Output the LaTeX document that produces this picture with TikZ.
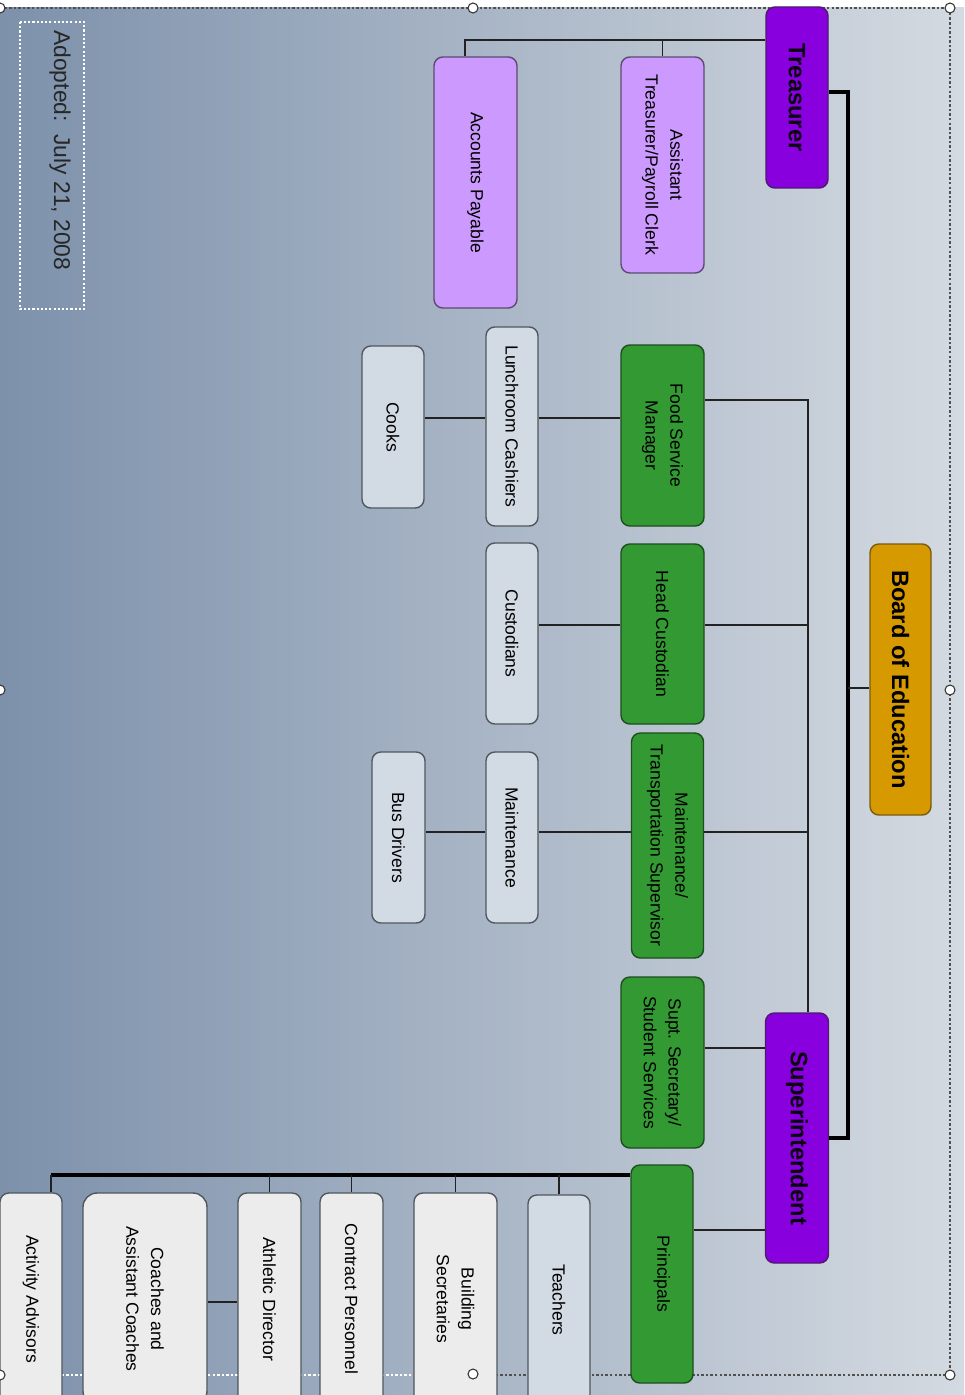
\documentclass[tikz,border=0pt]{standalone}
\usepackage{fontspec}
\setmainfont{Liberation Sans}
\usepackage{xcolor}
\usepackage{tikz}

\definecolor{bgLeft}{RGB}{125,145,171}
\definecolor{bgMid}{RGB}{172,185,200}
\definecolor{bgRight}{RGB}{212,218,225}
\definecolor{purpleFill}{RGB}{136,0,222}
\definecolor{purpleEdge}{RGB}{75,27,110}
\definecolor{lilacFill}{RGB}{204,153,255}
\definecolor{lilacEdge}{RGB}{92,74,114}
\definecolor{greenFill}{RGB}{51,153,51}
\definecolor{greenEdge}{RGB}{30,77,30}
\definecolor{goldFill}{RGB}{214,154,0}
\definecolor{goldEdge}{RGB}{122,90,16}
\definecolor{greyFill}{RGB}{210,218,227}
\definecolor{paleFill}{RGB}{236,236,236}
\definecolor{greyEdge}{RGB}{79,86,94}
\definecolor{lineC}{RGB}{34,34,34}
\definecolor{frameC}{RGB}{80,80,80}

\begin{document}
\begin{tikzpicture}[
    x=0.2mm, y=-0.2mm,
    box_style/.style={draw, rotate=-90, rounded corners=5pt, line width=0.8pt,
        inner sep=2pt, align=center, text=black,
        font=\fontsize{10}{14}\selectfont},
    head_style/.style={box_style, font=\bfseries\fontsize{13.5}{16}\selectfont},
    box_size/.style 2 args={minimum width=#1*0.2mm, minimum height=#2*0.2mm},
    purple_box/.style={head_style, fill=purpleFill, draw=purpleEdge, text=black!85!purpleEdge},
    gold_box/.style={head_style, fill=goldFill, draw=goldEdge},
    lilac_box/.style={box_style, fill=lilacFill, draw=lilacEdge},
    green_box/.style={box_style, fill=greenFill, draw=greenEdge},
    grey_box/.style={box_style, fill=greyFill, draw=greyEdge},
    pale_box/.style={box_style, fill=paleFill, draw=greyEdge},
    line_style/.style={draw=lineC, line width=0.8pt},
    thick_style/.style={draw=black, line width=2pt},
    frame_style/.style={frameC, line width=0.6pt, dash pattern=on 1.4pt off 1.2pt},
    handle_style/.style={fill=white, draw=black!80, line width=0.6pt}
]
    \clip (0,0) rectangle (964,1395);
    \useasboundingbox (0,0) rectangle (964,1395);

    % Background
    \fill[white] (0,0) rectangle (964,1395);
    \shade[left color=bgLeft, middle color=bgMid, right color=bgRight] (0,8) rectangle (964,1395);

    % Selection frame
    \draw[frame_style] (0,8) -- (950,8) -- (950,1375) -- (480,1375);
    \draw[frame_style, white] (480,1375) -- (0,1375);

    % Date
    \draw[white, line width=0.6pt, dash pattern=on 1.2pt off 1.2pt] (20,22) rectangle (84,309);
    \node[rotate=-90, anchor=base west, inner sep=0pt, font=\fontsize{13}{15}\selectfont, text=black!85]
        (adopted) at (54,30) {Adopted:\ \ July 21, 2008};

    % Junction coordinates
    \coordinate (spine) at (848,0);
    \coordinate (ops_bus) at (808,400);
    \coordinate (ap_drop) at (465,0);
    \coordinate (aa_drop) at (51,0);
    \coordinate (row_treas) at (0,40);
    \coordinate (row_top) at (0,92);
    \coordinate (row_lunch) at (0,418);
    \coordinate (row_cust) at (0,625);
    \coordinate (row_board) at (0,688);
    \coordinate (row_maint) at (0,832);
    \coordinate (row_secy) at (0,1048);
    \coordinate (row_bottom) at (0,1138);
    \coordinate (row_staff) at (0,1175);
    \coordinate (row_prin) at (0,1230);
    \coordinate (row_coach) at (0,1302);

    % Nodes
    \node[purple_box, box_size={181}{62}] (treas) at (797,97.5) {Treasurer};
    \node[gold_box, box_size={271}{61}] (board) at (900.5,679.5) {Board of Education};
    \node[purple_box, box_size={250}{63}] (supt) at (797,1138) {Superintendent};

    \node[lilac_box, box_size={216}{83}] (asst) at (662.5,165) {Assistant\\Treasurer/Payroll Clerk};
    \node[lilac_box, box_size={251}{83}] (acct) at (475.5,182.5) {Accounts Payable};

    \node[green_box, box_size={181}{83}] (food) at (662.5,435.5) {Food Service\\Manager};
    \node[grey_box, box_size={199}{52}] (lunch) at (512,426.5) {Lunchroom Cashiers};
    \node[grey_box, box_size={162}{62}] (cooks) at (393,427) {Cooks};

    \node[green_box, box_size={180}{83}] (headc) at (662.5,634) {Head Custodian};
    \node[grey_box, box_size={181}{52}] (cust) at (512,633.5) {Custodians};

    \node[green_box, box_size={225}{72}] (mts) at (667.5,845.5) {Maintenance/\\Transportation Supervisor};
    \node[grey_box, box_size={171}{52}] (maint) at (512,837.5) {Maintenance};
    \node[grey_box, box_size={171}{53}] (drivers) at (398.5,837.5) {Bus Drivers};

    \node[green_box, box_size={171}{83}] (secy) at (662.5,1062.5) {Supt. Secretary/\\Student Services};
    \node[green_box, box_size={218}{62}] (princ) at (662,1274) {Principals};

    \node[grey_box, box_size={210}{62}] (teach) at (559,1300) {Teachers};
    \node[pale_box, box_size={212}{83}] (bldg) at (455.5,1299) {Building\\Secretaries};
    \node[pale_box, box_size={212}{63}] (contr) at (351.5,1299) {Contract Personnel};
    \node[pale_box, box_size={212}{63}] (athl) at (269.5,1299) {Athletic Director};
    \node[pale_box, box_size={212}{124}, rounded corners=8pt] (coach) at (145,1299) {Coaches and\\Assistant Coaches};
    \node[pale_box, box_size={212}{62}] (activ) at (31,1299) {Activity Advisors};

    % Board, Treasurer and Superintendent
    \draw[thick_style] (treas.north |- row_top) -| (spine |- row_bottom) -- (supt.north |- row_bottom);
    \draw[line_style] (board.south |- row_board) -- (spine |- row_board);

    % Treasurer staff
    \draw[line_style] (treas.south |- row_treas) -| (ap_drop |- acct.west);
    \draw[line_style] (asst.west |- row_treas) -- (asst.west);

    % Superintendent staff
    \draw[line_style] (supt.west -| ops_bus) -- (ops_bus) -- (food.north |- ops_bus);
    \draw[line_style] (headc.north |- row_cust) -- (ops_bus |- row_cust);
    \draw[line_style] (mts.north |- row_maint) -- (ops_bus |- row_maint);
    \draw[line_style] (secy.north |- row_secy) -- (supt.south |- row_secy);
    \draw[line_style] (princ.north |- row_prin) -- (supt.south |- row_prin);

    % Department staff
    \draw[line_style] (food.south |- row_lunch) -- (lunch.north |- row_lunch);
    \draw[line_style] (lunch.south |- row_lunch) -- (cooks.north |- row_lunch);
    \draw[line_style] (headc.south |- row_cust) -- (cust.north |- row_cust);
    \draw[line_style] (mts.south |- row_maint) -- (maint.north |- row_maint);
    \draw[line_style] (maint.south |- row_maint) -- (drivers.north |- row_maint);

    % Principals staff
    \draw[thick_style] (princ.south |- row_staff) -- (aa_drop |- row_staff);
    \foreach \n in {teach, bldg, contr, athl}
        \draw[line_style] (\n.west |- row_staff) -- (\n.west);
    \draw[line_style] (aa_drop |- row_staff) -- (aa_drop |- activ.west);
    \draw[line_style] (coach.north |- row_coach) -- (athl.south |- row_coach);

    % Selection handles
    \foreach \hx/\hy in {0/8, 473/8, 950/8, 950/690, 950/1375, 473/1374, 0/1375, 0/690}
        \draw[handle_style] (\hx,\hy) circle (1mm);
\end{tikzpicture}
\end{document}
